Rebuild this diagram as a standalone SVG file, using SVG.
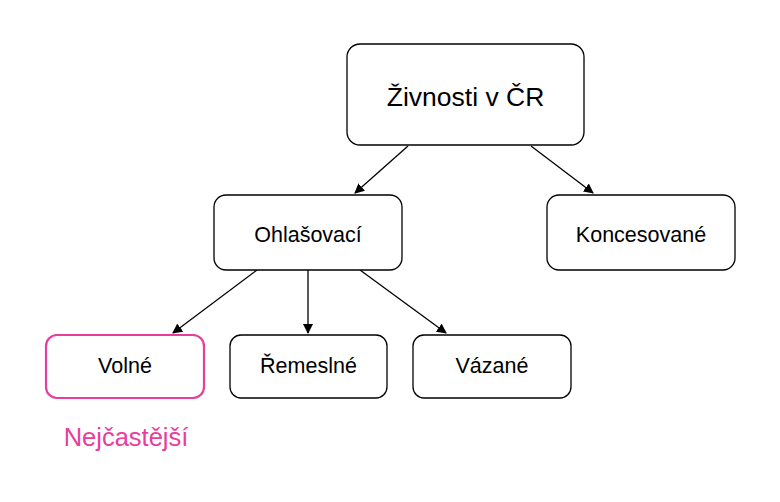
<svg xmlns="http://www.w3.org/2000/svg" width="780" height="502" viewBox="0 0 780 502">
<style>
.n{fill:#fff;stroke:#000;stroke-width:1.3}
.t{font-family:"Liberation Sans",Arial,sans-serif;font-size:21.5px;text-anchor:middle;dominant-baseline:central;fill:#000}
.c{stroke:#000;stroke-width:1.3;fill:none;marker-end:url(#a)}
</style>
<defs><marker id="a" viewBox="0 0 10 10" refX="9" refY="5" markerWidth="10" markerHeight="10" markerUnits="userSpaceOnUse" orient="auto"><path d="M0,0L10,5L0,10z" fill="#000"/></marker></defs>
<rect width="780" height="502" fill="#fff"/>
<g id="connectors">
<line class="c" x1="408" y1="146" x2="355" y2="193"/>
<line class="c" x1="531" y1="146" x2="593" y2="193"/>
<line class="c" x1="257" y1="270" x2="173" y2="333"/>
<line class="c" x1="308" y1="270" x2="308" y2="333"/>
<line class="c" x1="360" y1="270" x2="446" y2="333"/>
</g>
<g id="root"><rect class="n" x="347" y="44" width="237" height="101" rx="13"/><text class="t" x="465.5" y="97" style="font-size:26.5px">Živnosti v ČR</text></g>
<g id="ohlasovaci"><rect class="n" x="214" y="195" width="188" height="75" rx="12"/><text class="t" x="308" y="235">Ohlašovací</text></g>
<g id="koncesovane"><rect class="n" x="547" y="195" width="188" height="75" rx="12"/><text class="t" x="641" y="235">Koncesované</text></g>
<g id="volne"><rect class="n" x="46" y="335" width="158" height="63" rx="11" style="stroke:#e83e9b;stroke-width:2.2"/><text class="t" x="125" y="366">Volné</text></g>
<g id="remeslne"><rect class="n" x="230" y="335" width="157" height="63" rx="11"/><text class="t" x="308.5" y="366">Řemeslné</text></g>
<g id="vazane"><rect class="n" x="413" y="335" width="158" height="63" rx="11"/><text class="t" x="492" y="366">Vázané</text></g>
<g id="note"><text class="t" x="126" y="437" style="fill:#e83e9b;font-size:25.5px">Nejčastější</text></g>
</svg>
